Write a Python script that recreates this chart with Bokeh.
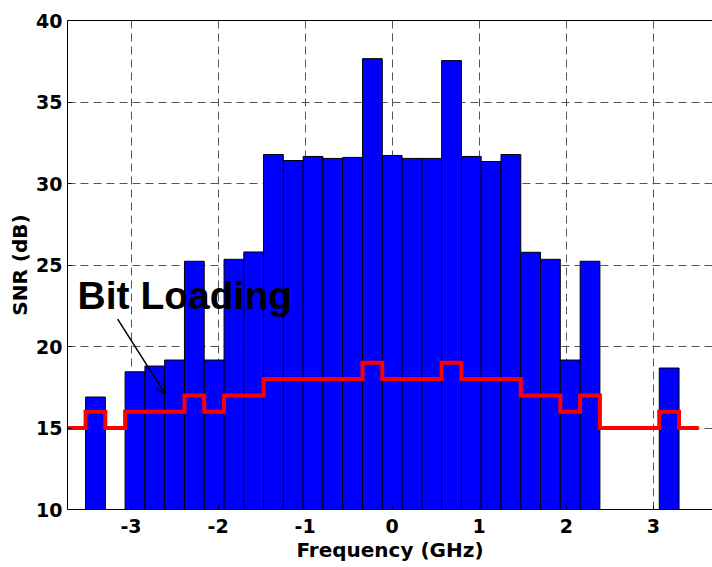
from bokeh.plotting import figure
from bokeh.models import Range1d, LinearAxis, FixedTicker, Label, Arrow, OpenHead, ColumnDataSource
from bokeh.embed import file_html
from bokeh.resources import INLINE

nan = float("nan")

# Subcarrier centre frequencies (GHz)
freq = [-3.636, -3.409, -3.182, -2.955, -2.727, -2.500, -2.273, -2.045,
        -1.818, -1.591, -1.364, -1.136, -0.909, -0.682, -0.455, -0.227,
        0.000, 0.227, 0.455, 0.682, 0.909, 1.136, 1.364, 1.591,
        1.818, 2.045, 2.273, 2.500, 2.727, 2.955, 3.182, 3.409]
# Measured SNR per subcarrier (dB), nan = unused
snr = [nan, 16.90, nan, 18.45, 18.80, 19.17, 25.23, 19.17,
       25.35, 25.80, 31.78, 31.41, 31.66, 31.54, 31.60, 37.66,
       31.72, 31.54, 31.54, 37.54, 31.66, 31.35, 31.78, 25.78,
       25.35, 19.17, 25.23, nan, nan, nan, 18.68, nan]
# Bit loading per subcarrier
bits = [15, 16, 15, 16, 16, 16, 17, 16,
        17, 17, 18, 18, 18, 18, 18, 19,
        18, 18, 18, 19, 18, 18, 18, 17,
        17, 16, 17, 15, 15, 15, 16, 15]

x_ticks = [-3, -2, -1, 0, 1, 2, 3]
x_tick_labels = ["-3", "-2", "-1", "0", "1", "2", "3"]
y_ticks = [10, 15, 20, 25, 30, 35, 40]

label_text = "Bit Loading"
label_pos = (-3.614, 23.15)
arrow_start = (-3.154, 21.68)
arrow_end = (-2.606, 17.08)

spacing = freq[1] - freq[0]

p = figure(width=712, height=567, output_backend="svg", toolbar_location=None,
           x_range=Range1d(-3.73, 3.68), y_range=Range1d(10, 40),
           min_border_left=67, min_border_right=0, min_border_top=20,
           min_border_bottom=58)
p.outline_line_color = None
p.background_fill_color = "white"
p.border_fill_color = "white"

src = ColumnDataSource(dict(freq=freq, snr=snr))
p.vbar(x="freq", top="snr", bottom=0, width=spacing, source=src,
       fill_color="#0000FF", line_color="black", line_width=1)

# step line from bit loading
xs, ys = [], []
for f, b in zip(freq, bits):
    xs += [f - spacing / 2, f + spacing / 2]
    ys += [b, b]
p.line(xs, ys, line_color="#FF0000", line_width=4, line_join="miter")

for g in (p.xgrid, p.ygrid):
    g.grid_line_color = "#555555"
    g.grid_line_dash = "8 5"
    g.grid_line_width = 1
p.xgrid.ticker = FixedTicker(ticks=x_ticks)
p.ygrid.ticker = FixedTicker(ticks=y_ticks)

font = "DejaVu Sans"
p.xaxis.ticker = FixedTicker(ticks=x_ticks)
p.xaxis.major_label_overrides = dict(zip(x_ticks, x_tick_labels))
p.yaxis.ticker = FixedTicker(ticks=y_ticks)
for ax in (p.xaxis[0], p.yaxis[0]):
    ax.axis_line_color = "black"
    ax.axis_line_width = 1
    ax.major_tick_in = 4
    ax.major_tick_out = 0
    ax.major_tick_line_color = "black"
    ax.minor_tick_line_color = None
    ax.major_label_text_font = font
    ax.major_label_text_font_style = "bold"
    ax.major_label_text_font_size = "19px"
    ax.major_label_text_color = "black"
    ax.axis_label_text_font = font
    ax.axis_label_text_font_style = "bold"
    ax.axis_label_text_font_size = "20px"
    ax.axis_label_text_color = "black"
p.xaxis.axis_label = "Frequency (GHz)"
p.yaxis.axis_label = "SNR (dB)"
p.xaxis.major_label_standoff = 9
p.xaxis.axis_label_standoff = 2
p.yaxis.major_label_standoff = 5
p.yaxis.axis_label_standoff = 1

top = LinearAxis(ticker=FixedTicker(ticks=[]), major_tick_in=0, major_tick_out=0,
                 minor_tick_line_color=None, axis_line_color="black")
p.add_layout(top, "above")

p.add_layout(Label(x=label_pos[0], y=label_pos[1], text=label_text,
                   text_font="Liberation Sans", text_font_style="bold",
                   text_font_size="39px", text_color="black",
                   text_baseline="alphabetic"))
p.add_layout(Arrow(end=OpenHead(size=10, line_width=1.5, line_color="black"),
                   x_start=arrow_start[0], y_start=arrow_start[1],
                   x_end=arrow_end[0], y_end=arrow_end[1],
                   line_width=1.5, line_color="black"))

open("out.html", "w").write(file_html(p, INLINE))
